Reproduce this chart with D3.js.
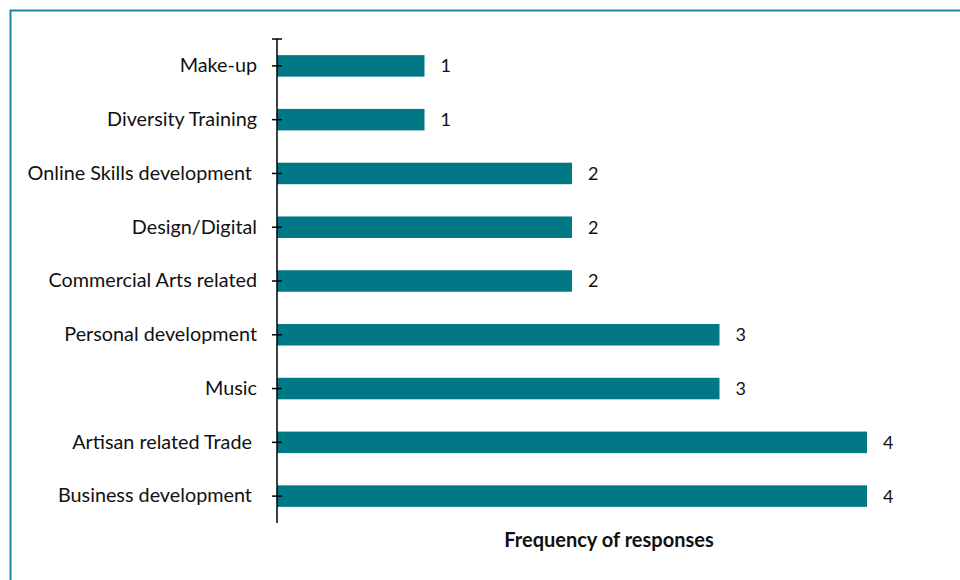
<!DOCTYPE html>
<html>
<head>
<meta charset="utf-8">
<script src="https://cdn.jsdelivr.net/npm/d3@7"></script>
<style>
  body { margin: 0; background: #fff; }
  svg text { font-family: Lato, "Open Sans", sans-serif; white-space: pre; }
</style>
</head>
<body>
<svg id="chart" width="960" height="580"></svg>
<script>
// categories top to bottom, as in the picture
var categories = [
  "Make-up",
  "Diversity Training",
  "Online Skills development ",
  "Design/Digital",
  "Commercial Arts related",
  "Personal development",
  "Music",
  "Artisan related Trade ",
  "Business development "
];
var responses = [1, 1, 2, 2, 2, 3, 3, 4, 4];
var axisTitle = "Frequency of responses";

var svg = d3.select("#chart");

// frame
svg.append("rect")
  .attr("x", 10.5).attr("y", 10.5)
  .attr("width", 1000).attr("height", 1000)
  .attr("fill", "none")
  .attr("stroke", "#1b8797")
  .attr("stroke-width", 2);

var x = d3.scaleLinear().domain([0, 4]).range([277, 867]);
var y = d3.scaleBand().domain(categories).range([39, 523])
  .paddingInner(0.6).paddingOuter(0.3);

var g = svg.append("g");

// bars
g.selectAll("rect.bar")
  .data(categories)
  .enter().append("rect")
  .attr("class", "bar")
  .attr("x", x(0))
  .attr("y", function (d) { return y(d); })
  .attr("width", function (d, i) { return x(responses[i]) - x(0); })
  .attr("height", y.bandwidth())
  .attr("fill", "#017886");

// value labels
g.selectAll("text.val")
  .data(categories)
  .enter().append("text")
  .attr("class", "val")
  .attr("x", function (d, i) { return x(responses[i]) + 16; })
  .attr("y", function (d) { return y(d) + y.bandwidth() / 2; })
  .attr("dy", "0.36em")
  .attr("font-size", 18)
  .attr("fill", "#111")
  .text(function (d, i) { return responses[i]; });

// category axis
var axis = d3.axisLeft(y).tickSize(5).tickPadding(15);
var ax = svg.append("g")
  .attr("transform", "translate(" + x(0) + ",0)")
  .call(axis);
ax.select(".domain").remove();
ax.selectAll(".tick line")
  .attr("x1", -5).attr("x2", 5)
  .attr("stroke", "#000").attr("stroke-width", 1.5);
ax.selectAll(".tick text")
  .attr("font-size", 19.8)
  .attr("font-family", "Lato, sans-serif")
  .attr("fill", "#111");

// axis line with top cap
svg.append("line")
  .attr("x1", x(0)).attr("x2", x(0))
  .attr("y1", y.range()[0]).attr("y2", y.range()[1])
  .attr("stroke", "#000").attr("stroke-width", 1.5);
svg.append("line")
  .attr("x1", x(0) - 5).attr("x2", x(0) + 5)
  .attr("y1", y.range()[0]).attr("y2", y.range()[0])
  .attr("stroke", "#000").attr("stroke-width", 1.5);

// axis title
svg.append("text")
  .attr("x", 609)
  .attr("y", 547)
  .attr("text-anchor", "middle")
  .attr("font-size", 20)
  .attr("font-weight", "bold")
  .attr("fill", "#111")
  .text(axisTitle);
</script>
</body>
</html>
